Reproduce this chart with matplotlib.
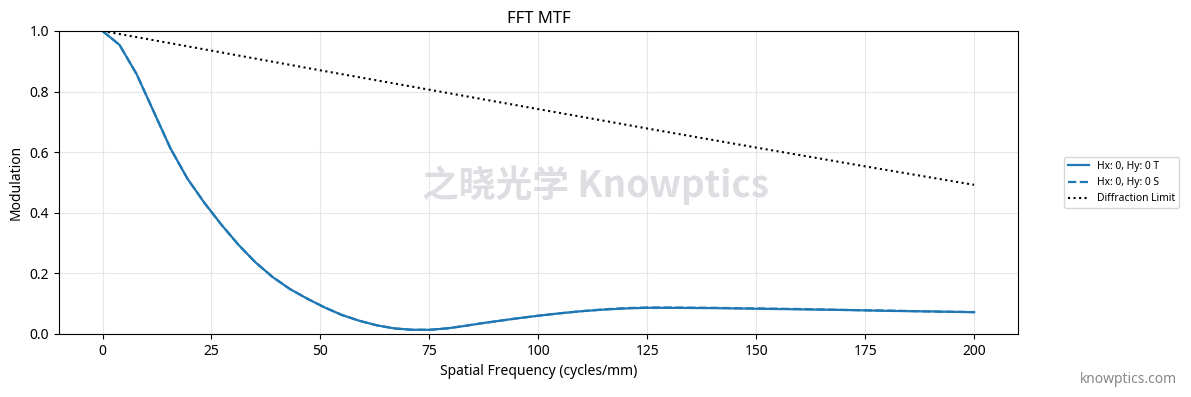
import matplotlib
matplotlib.use("Agg")
import matplotlib.pyplot as plt

plt.rcParams['font.family'] = ['Noto Sans', 'Noto Sans CJK SC', 'DejaVu Sans']

# MTF curves
freq = [0, 3.9, 7.8, 11.7, 15.6, 19.5, 23.4, 27.3, 31.2, 35.1, 39, 43, 47, 51, 55,
        59, 63, 67, 71, 75, 79, 83, 87, 91, 95, 100, 105, 110, 115, 120, 125, 130,
        140, 150, 160, 170, 180, 190, 200]
mtf_t = [1.0, 0.954, 0.858, 0.735, 0.612, 0.512, 0.432, 0.360, 0.294, 0.236, 0.188,
         0.148, 0.116, 0.087, 0.062, 0.043, 0.028, 0.018, 0.0135, 0.0135, 0.018, 0.026,
         0.035, 0.043, 0.051, 0.060, 0.068, 0.075, 0.080, 0.084, 0.086, 0.086,
         0.085, 0.083, 0.081, 0.079, 0.076, 0.074, 0.0715]
mtf_s = [1.0, 0.954, 0.858, 0.735, 0.612, 0.512, 0.432, 0.360, 0.294, 0.236, 0.188,
         0.148, 0.116, 0.087, 0.062, 0.043, 0.028, 0.018, 0.0135, 0.0135, 0.018, 0.026,
         0.035, 0.043, 0.051, 0.060, 0.068, 0.075, 0.081, 0.085, 0.087, 0.087,
         0.086, 0.084, 0.082, 0.079, 0.077, 0.074, 0.072]

freq_dl = [0, 25, 50, 75, 100, 125, 150, 175, 200]
mtf_dl = [1.0, 0.935, 0.870, 0.806, 0.742, 0.678, 0.615, 0.553, 0.492]

fig = plt.figure(figsize=(11.91, 3.97), dpi=100)
ax = fig.add_axes([0.0495, 0.159, 0.805, 0.763])

ax.plot(freq, mtf_t, color='#1f77b4', lw=1.6, label='Hx: 0, Hy: 0 T')
ax.plot(freq, mtf_s, color='#1f77b4', lw=1.6, ls='--', label='Hx: 0, Hy: 0 S')
ax.plot(freq_dl, mtf_dl, color='black', lw=1.5, ls=':', label='Diffraction Limit')

ax.set_xlim(-10, 210)
ax.set_ylim(0, 1)
ax.set_xticks([0, 25, 50, 75, 100, 125, 150, 175, 200])
ax.grid(True, color='#dddddd', lw=0.8, alpha=0.7)
ax.set_title('FFT MTF', fontsize=12)
ax.set_xlabel('Spatial Frequency (cycles/mm)', fontsize=10)
ax.set_ylabel('Modulation', fontsize=10)
ax.tick_params(labelsize=10)

fig.text(0.5, 0.534, '之晓光学 Knowptics', ha='center', va='center',
         family=['Noto Sans CJK SC', 'DejaVu Sans'],
         fontsize=26.5, fontweight='bold', color='#c8c8d0', alpha=0.6, zorder=0)

fig.legend(loc='center left', bbox_to_anchor=(0.889, 0.54), fontsize=7.4)
fig.text(0.988, 0.045, 'knowptics.com', ha='right', va='center', fontsize=10, color='#888888')

fig.savefig('out.png', dpi=100)
